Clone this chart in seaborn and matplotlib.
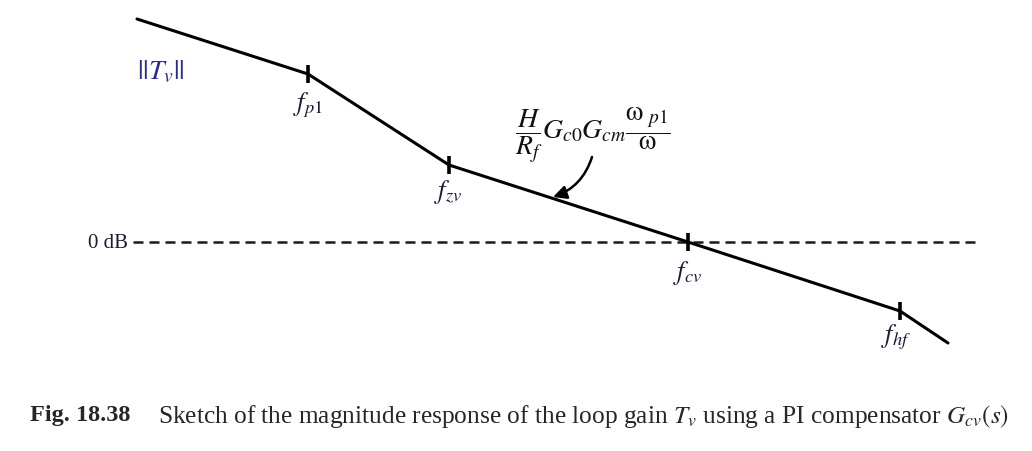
import matplotlib.pyplot as plt
import seaborn as sns
import pandas as pd

# ---------------- Data ----------------
# asymptotic corners of ||Tv||, x in decades (log10 f), y in dB
corner_names = ['start', 'fp1', 'fzv', 'fcv', 'fhf', 'end']
log_f = [0.0, 1.71, 3.12, 5.51, 7.63, 8.11]
mag_db = [44.6, 33.6, 15.4, 0.0, -13.8, -20.2]

tick_labels = [r'$f_{p1}$', r'$f_{zv}$', r'$f_{cv}$', r'$f_{hf}$']
tick_idx = [1, 2, 3, 4]

zero_db_span = [-0.04, 8.38]

df = pd.DataFrame({'log_f': log_f, 'mag_db': mag_db, 'corner': corner_names})

# ---------------- Plot ----------------
sns.set_style('white')
plt.rcParams['font.family'] = ['Liberation Serif', 'DejaVu Serif']
plt.rcParams['mathtext.fontset'] = 'stix'

fig = plt.figure(figsize=(10.32, 4.52), dpi=100)
ax = fig.add_axes([0, 0, 1, 1])
ax.set_xlim(-1.37, 8.95)
ax.set_ylim(-41.8, 48.6)
ax.axis('off')

# 0 dB reference
ax.plot(zero_db_span, [0, 0], color='#1a1a1a', lw=1.8, linestyle=(0, (4, 2.4)))
ax.text(zero_db_span[0] - 0.05, 0, '0 dB', ha='right', va='center',
        fontsize=15, color='#1a1a3a')

# magnitude asymptotes
sns.lineplot(data=df, x='log_f', y='mag_db', color='black', lw=2.2,
             sort=False, ax=ax, legend=False)

# corner ticks
tk = df.iloc[tick_idx]
ax.scatter(tk['log_f'], tk['mag_db'], marker='|', s=150, linewidths=2.6,
           color='black', zorder=3)

label_off = [(-0.0, -6.0), (-0.01, -5.2), (0.0, -6.0), (-0.04, -5.0)]
for i, lab, (dx, dy) in zip(tick_idx, tick_labels, label_off):
    ax.text(log_f[i] + dx, mag_db[i] + dy, lab, ha='center', va='center',
            fontsize=19, color='#1a1a3a')

ax.text(0.24, 34.2, r'$||T_v||$', ha='center', va='center', fontsize=20,
        color='#2b2b8f')

# asymptote formula with curved arrow
ax.text(4.56, 21.6,
        r'$\dfrac{H}{R_f}G_{c0}G_{cm}\dfrac{\mathrm{\omega}_{\ p1}}{\mathrm{\omega}}$',
        ha='center', va='center', fontsize=20, color='#111111')
ax.annotate('', xy=(4.16, 9.0), xytext=(4.55, 17.0),
            arrowprops=dict(arrowstyle='-|>', color='black', lw=1.8,
                            mutation_scale=20, shrinkA=0, shrinkB=0,
                            connectionstyle='arc3,rad=-0.25'))

# caption
ax.text(-1.07, -34.6, 'Fig. 18.38', ha='left', va='center', fontsize=17.5,
        fontweight='bold')
ax.text(0.21, -34.6,
        r'Sketch of the magnitude response of the loop gain $T_v$ using a PI compensator $G_{cv}(s)$',
        ha='left', va='center', fontsize=18.3)

fig.savefig('out.png', dpi=100)
